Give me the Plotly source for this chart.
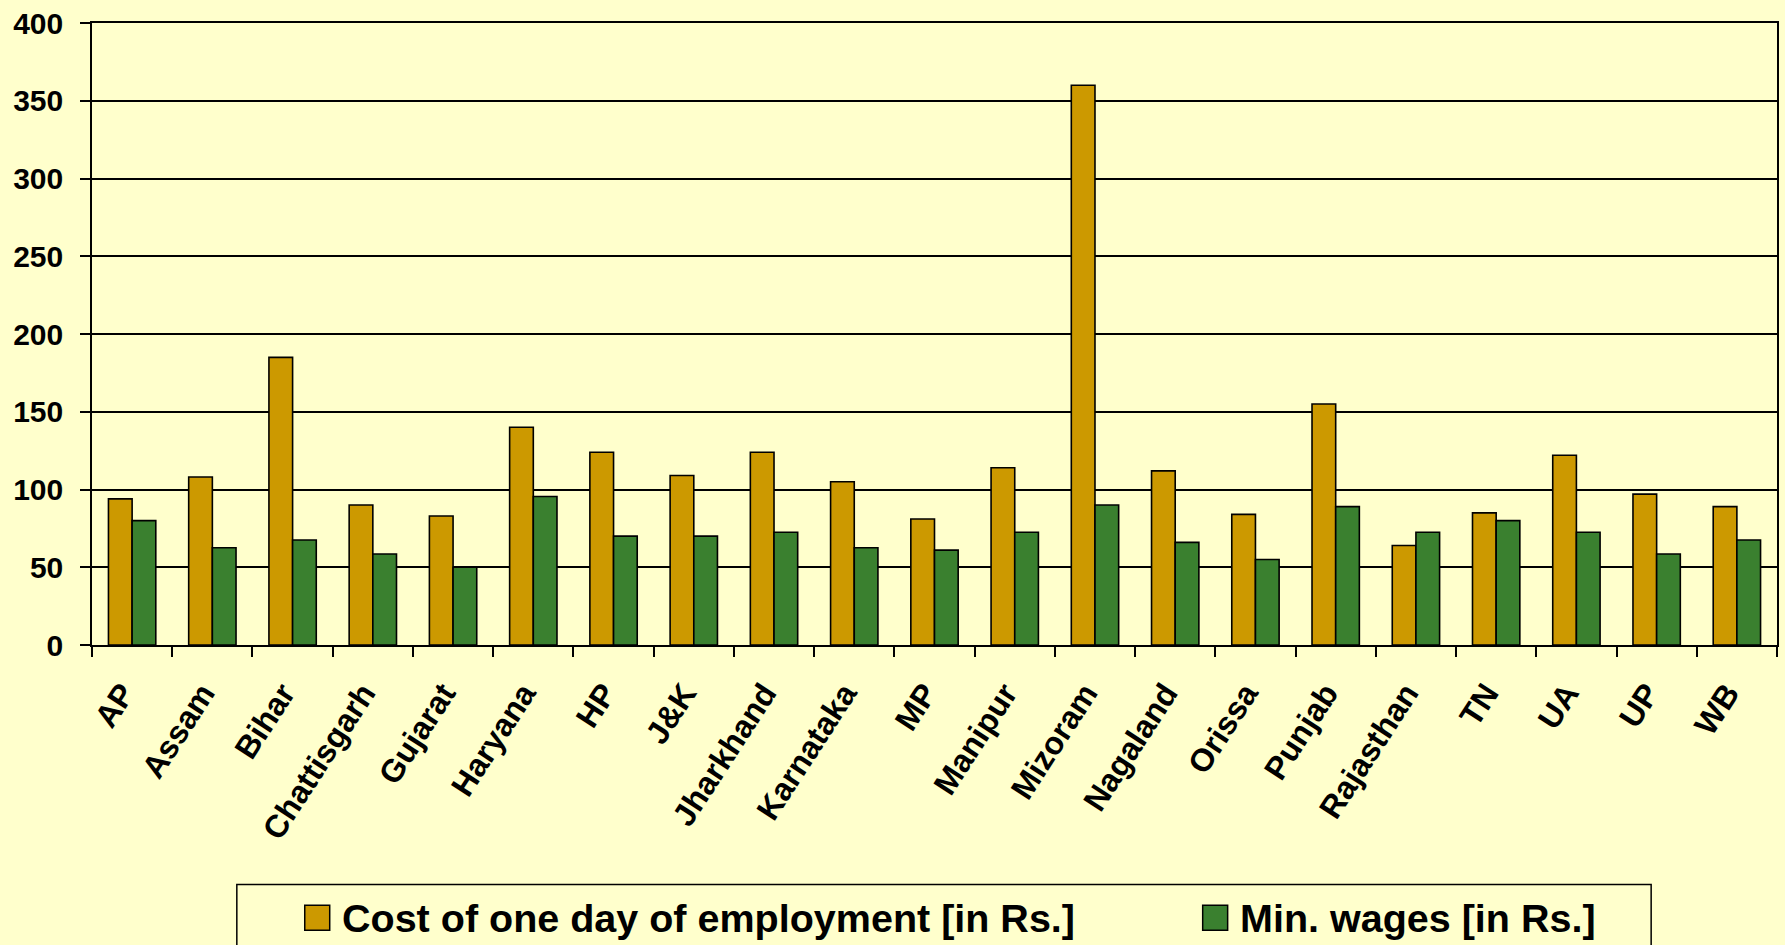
import plotly.graph_objects as go

states = ["AP", "Assam", "Bihar", "Chattisgarh", "Gujarat", "Haryana", "HP", "J&K",
          "Jharkhand", "Karnataka", "MP", "Manipur", "Mizoram", "Nagaland", "Orissa",
          "Punjab", "Rajasthan", "TN", "UA", "UP", "WB"]
cost_per_day = [94, 108, 185, 90, 83, 140, 124, 109, 124, 105, 81, 114, 360, 112, 84,
                155, 64, 85, 122, 97, 89]
min_wages = [80, 62.5, 67.5, 58.5, 50, 95.5, 70, 70, 72.5, 62.5, 61, 72.5, 90, 66, 55,
             89, 72.5, 80, 72.5, 58.5, 67.5]
series_names = ["Cost of one day of employment [in Rs.]", "Min. wages [in Rs.]"]
series_colors = ["#CC9900", "#3A802F"]
y_ticks = [0, 50, 100, 150, 200, 250, 300, 350, 400]

BG = "#FFFFCC"
W, H = 1785, 945
ML, MR, MT, MB = 92, 6, 19, 300
PW, PH = W - ML - MR, H - MT - MB


def px(x):
    return (x - ML) / PW


def py(y):
    return (H - MB - y) / PH


fig = go.Figure()
for name, vals, col in zip(series_names, [cost_per_day, min_wages], series_colors):
    fig.add_trace(go.Bar(x=states, y=vals, name=name, marker_color=col,
                         marker_line=dict(color="black", width=1.6), showlegend=False))

# manual legend
shapes = [dict(type="rect", xref="paper", yref="paper", x0=px(237), x1=px(1653),
               y0=py(952), y1=py(886), line=dict(color="black", width=1.5), fillcolor=BG,
               layer="below")]
annotations = []
for i, (name, col) in enumerate(zip(series_names, series_colors)):
    sx = [305, 1204][i]
    shapes.append(dict(type="rect", xref="paper", yref="paper", x0=px(sx), x1=px(sx + 25),
                       y0=py(932), y1=py(907), line=dict(color="black", width=1.5),
                       fillcolor=col))
    annotations.append(dict(xref="paper", yref="paper", x=px(sx + 35), y=py(920),
                            xanchor="left", yanchor="middle", showarrow=False, text=name,
                            font=dict(family="Liberation Sans, Arial",
                                      size=39.5, color="black", weight="bold")))

tick_text = [s + "\u00a0\u00a0" for s in states]

fig.update_layout(
    width=W, height=H,
    margin=dict(l=ML, r=MR, t=MT, b=MB),
    paper_bgcolor=BG, plot_bgcolor=BG,
    barmode="group", bargap=0.41, bargroupgap=0,
    font=dict(family="Liberation Sans, Arial", color="black"),
    shapes=shapes, annotations=annotations,
    xaxis=dict(type="category", tickangle=-57, tickson="boundaries", ticks="outside",
               tickvals=states, ticktext=tick_text,
               ticklen=10, tickwidth=1.5, tickcolor="black", showline=True, linecolor="black",
               linewidth=1.5, mirror=True, showgrid=False, ticklabelstandoff=0,
               tickfont=dict(size=32, weight="bold", family="Liberation Sans, Arial")),
    yaxis=dict(range=[0, 400], tickvals=y_ticks, ticks="outside", ticklen=10, tickwidth=1.5,
               tickcolor="black", showline=True, linecolor="black", linewidth=1.5,
               mirror=True, showgrid=True, gridcolor="black", gridwidth=1.5,
               zeroline=False, ticklabelstandoff=11,
               tickfont=dict(size=30, weight="bold", family="Liberation Sans, Arial")),
)

fig.write_html("out.html", config={"displayModeBar": False}, post_script=(
    "document.body.style.margin='0';document.body.style.background='#FFFFCC';"
    "document.body.style.overflow='hidden';"))
